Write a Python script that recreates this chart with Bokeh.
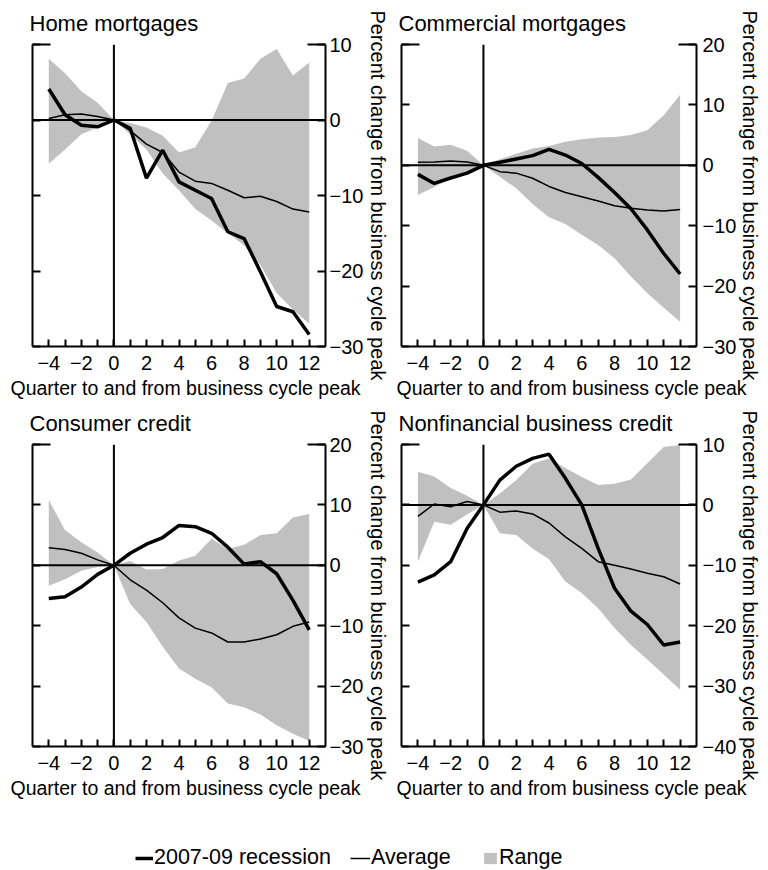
from bokeh.plotting import figure
from bokeh.layouts import column, row
from bokeh.models import LinearAxis, FixedTicker, Span, Title, Legend, LegendItem, Range1d
from bokeh.embed import file_html
from bokeh.resources import INLINE

quarters = list(range(-4, 13))

home_recession = [4.1, 0.7, -0.7, -0.9, 0, -1.1, -7.7, -4.0, -8.2, -9.3, -10.4, -14.8, -15.7, -20.1, -24.7, -25.4, -28.4]
home_average = [0.2, 0.7, 0.8, 0.45, 0, -1.4, -3.2, -4.3, -6.9, -8.1, -8.4, -9.3, -10.3, -10.1, -10.8, -11.8, -12.2]
home_high = [8.1, 6.2, 3.8, 2.3, 0, -0.4, -1.0, -2.1, -4.3, -3.6, -0.1, 4.9, 5.5, 8.1, 9.4, 5.9, 7.6]
home_low = [-5.8, -3.9, -1.9, -1.0, 0, -1.9, -3.9, -7.1, -9.3, -11.8, -13.3, -15.0, -16.6, -19.2, -22.9, -25.1, -27.0]

comm_recession = [-1.5, -3.0, -2.1, -1.3, 0, 0.5, 1.05, 1.6, 2.65, 1.7, 0.3, -2.0, -4.5, -7.2, -10.7, -14.6, -18.0]
comm_average = [0.5, 0.55, 0.7, 0.55, 0, -1.05, -1.3, -2.15, -3.5, -4.5, -5.2, -5.9, -6.7, -7.1, -7.4, -7.55, -7.3]
comm_high = [4.5, 3.1, 3.4, 2.4, 0, 1.0, 1.9, 2.8, 3.2, 3.9, 4.3, 4.6, 4.7, 5.0, 5.8, 8.3, 11.7]
comm_low = [-4.9, -3.6, -2.15, -1.05, 0, -1.9, -3.8, -6.4, -8.6, -9.7, -11.5, -13.2, -15.4, -18.4, -21.2, -23.6, -25.9]

cons_recession = [-5.5, -5.2, -3.6, -1.5, 0, 2.0, 3.5, 4.6, 6.6, 6.4, 5.3, 3.0, 0.2, 0.6, -1.4, -5.8, -10.7]
cons_average = [2.9, 2.6, 2.0, 0.9, 0, -2.4, -4.1, -6.2, -8.7, -10.4, -11.2, -12.7, -12.7, -12.2, -11.5, -10.1, -9.4]
cons_high = [10.8, 5.8, 3.8, 2.1, 0, 0.7, -0.7, -0.6, 0.8, 1.6, 4.4, 2.7, 3.4, 5.0, 5.3, 7.9, 8.5]
cons_low = [-3.4, -2.3, -0.9, -0.3, 0, -6.4, -9.4, -13.5, -17.1, -18.8, -20.2, -22.9, -23.5, -24.7, -26.5, -27.9, -29.1]

nfb_recession = [-12.8, -11.6, -9.4, -3.9, 0, 4.1, 6.4, 7.7, 8.4, 4.4, 0, -7.2, -13.8, -17.6, -19.8, -23.2, -22.7]
nfb_average = [-1.9, 0.15, -0.3, 0.55, 0, -1.2, -1.0, -1.5, -3.0, -5.3, -7.2, -9.4, -10.0, -10.6, -11.3, -11.9, -13.1]
nfb_high = [5.5, 4.7, 2.8, 1.5, 0, 1.9, 4.1, 6.8, 7.7, 6.1, 4.6, 3.3, 3.5, 4.2, 6.9, 9.6, 9.9]
nfb_low = [-9.4, -2.8, -3.3, -1.6, 0, -4.7, -5.0, -7.2, -9.0, -12.7, -14.6, -17.1, -20.4, -23.2, -25.6, -28.1, -30.6]

x_major_ticks = [-4, -2, 0, 2, 4, 6, 8, 10, 12]
x_minor_ticks = [-3, -1, 1, 3, 5, 7, 9, 11]

titles = ["Home mortgages", "Commercial mortgages", "Consumer credit", "Nonfinancial business credit"]
y_ticks = [
    [-30, -20, -10, 0, 10],
    [-30, -20, -10, 0, 10, 20],
    [-30, -20, -10, 0, 10, 20],
    [-40, -30, -20, -10, 0, 10],
]
x_label = "Quarter to and from business cycle peak"
y_label = "Percent change from business cycle peak"
legend_labels = ["2007-09 recession", "Average", "Range"]

FONT = "Liberation Sans"
GRAY = "#c0c0c0"
INK = "black"


def lbl(v):
    v = int(v)
    return ("\u2212" + str(-v)) if v < 0 else str(v)


def make_panel(title, rec, avg, low, high, yt, width, height, bl, br, bt, bb, xoff,
               tick_standoff, label_standoff):
    ymin, ymax = yt[0], yt[-1]
    p = figure(width=width, height=height, x_range=Range1d(-5, 13), y_range=Range1d(ymin, ymax),
               output_backend="svg", toolbar_location=None,
               min_border_left=bl, min_border_right=br, min_border_top=bt, min_border_bottom=bb)
    p.outline_line_color = None
    p.xgrid.visible = False
    p.ygrid.visible = False
    p.background_fill_color = None
    p.border_fill_color = None

    p.title.text = title
    p.title.align = "left"
    p.title.offset = -3
    p.title.text_font = FONT
    p.title.text_font_size = "22px"
    p.title.text_font_style = "normal"
    p.title.text_color = INK
    p.title.standoff = 17

    band = p.varea(x=quarters, y1=low, y2=high, fill_color=GRAY, fill_alpha=1.0)
    band.level = "image"
    p.add_layout(Span(location=0, dimension="width", line_color=INK, line_width=2, level="underlay"))
    p.add_layout(Span(location=0, dimension="height", line_color=INK, line_width=2, level="underlay"))
    p.line(quarters, avg, line_color=INK, line_width=1.5)
    p.line(quarters, rec, line_color=INK, line_width=3.5)

    # bottom axis
    xa = p.xaxis[0]
    xa.ticker = FixedTicker(ticks=x_major_ticks, minor_ticks=x_minor_ticks)
    xa.major_label_overrides = {t: lbl(t) for t in x_major_ticks}
    xa.major_tick_in = 7
    xa.major_tick_out = 0
    xa.minor_tick_in = 7
    xa.minor_tick_out = 0
    xa.axis_line_width = 2
    xa.axis_line_color = INK
    xa.major_tick_line_width = 2
    xa.minor_tick_line_width = 2
    xa.major_tick_line_color = INK
    xa.minor_tick_line_color = INK
    xa.major_label_text_font = FONT
    xa.major_label_text_font_size = "20px"
    xa.major_label_text_color = INK
    xa.major_label_standoff = 9

    xt = Title(text=x_label, align="left", offset=xoff, text_font=FONT, text_color=INK,
               text_font_size="19.5px", text_font_style="normal", standoff=4)
    p.add_layout(xt, "below")

    # left axis: ticks only
    ya = p.yaxis[0]
    ya.ticker = FixedTicker(ticks=yt, minor_ticks=[ymax])
    ya.major_label_overrides = {t: "" for t in yt}
    ya.major_label_standoff = 0
    ya.major_tick_in = 8
    ya.major_tick_out = 0
    ya.minor_tick_in = 18
    ya.minor_tick_out = 0
    ya.axis_line_width = 2
    ya.axis_line_color = INK
    ya.major_tick_line_width = 2
    ya.minor_tick_line_width = 2
    ya.major_tick_line_color = INK
    ya.minor_tick_line_color = INK

    ra = LinearAxis(ticker=FixedTicker(ticks=yt, minor_ticks=[ymax]),
                    axis_label=y_label, axis_label_text_font=FONT, axis_label_text_color=INK,
                    axis_label_text_font_size="20px", axis_label_text_font_style="normal",
                    axis_label_standoff=label_standoff,
                    major_label_text_font=FONT, major_label_text_font_size="20px",
                    major_label_text_color=INK,
                    major_label_standoff=tick_standoff,
                    major_label_overrides={t: lbl(t) for t in yt},
                    major_tick_in=8, major_tick_out=0, minor_tick_in=18, minor_tick_out=0,
                    axis_line_width=2, major_tick_line_width=2, minor_tick_line_width=2,
                    axis_line_color=INK, major_tick_line_color=INK, minor_tick_line_color=INK)
    p.add_layout(ra, "right")
    return p


p1 = make_panel(titles[0], home_recession, home_average, home_low, home_high, y_ticks[0],
                392, 400, 32, 64, 44, 53, -22, 4, 1)
p2 = make_panel(titles[1], comm_recession, comm_average, comm_low, comm_high, y_ticks[1],
                376, 400, 9, 72, 44, 53, -5, 6, 0)
p3 = make_panel(titles[2], cons_recession, cons_average, cons_low, cons_high, y_ticks[2],
                392, 400, 32, 64, 44, 53, -22, 4, 1)
p4 = make_panel(titles[3], nfb_recession, nfb_average, nfb_low, nfb_high, y_ticks[3],
                376, 400, 9, 72, 44, 53, -5, 6, 0)

# legend strip: dummy renderers kept outside the visible range, used only for legend glyphs
lp = figure(width=768, height=80, output_backend="svg", toolbar_location=None,
            x_range=Range1d(0, 1), y_range=Range1d(0, 1),
            min_border=0, x_axis_location=None, y_axis_location=None)
lp.outline_line_color = None
lp.xgrid.visible = False
lp.ygrid.visible = False
dummy_x = [5, 6]
dummy_y = [5, 5]
r1 = lp.line(x=dummy_x, y=dummy_y, line_color=INK, line_width=3.5)
r2 = lp.line(x=dummy_x, y=dummy_y, line_color=INK, line_width=1.5)
r3 = lp.varea(x=dummy_x, y1=dummy_y, y2=dummy_y, fill_color=GRAY)

for label, rend, loc, gw in [(legend_labels[0], r1, (135, 10), 18),
                             (legend_labels[1], r2, (350, 10), 20),
                             (legend_labels[2], r3, (482, 10), 16)]:
    leg = Legend(items=[LegendItem(label=label, renderers=[rend])], location=loc,
                 orientation="horizontal", padding=0, margin=0, border_line_color=None,
                 background_fill_alpha=0, label_text_font=FONT, label_text_font_size="21.5px",
                 label_text_color=INK,
                 glyph_width=gw, glyph_height=14, label_standoff=1, label_height=20)
    lp.add_layout(leg, "center")

layout = column(row(p1, p2), row(p3, p4), lp)

open("out.html", "w").write(file_html(layout, INLINE))
